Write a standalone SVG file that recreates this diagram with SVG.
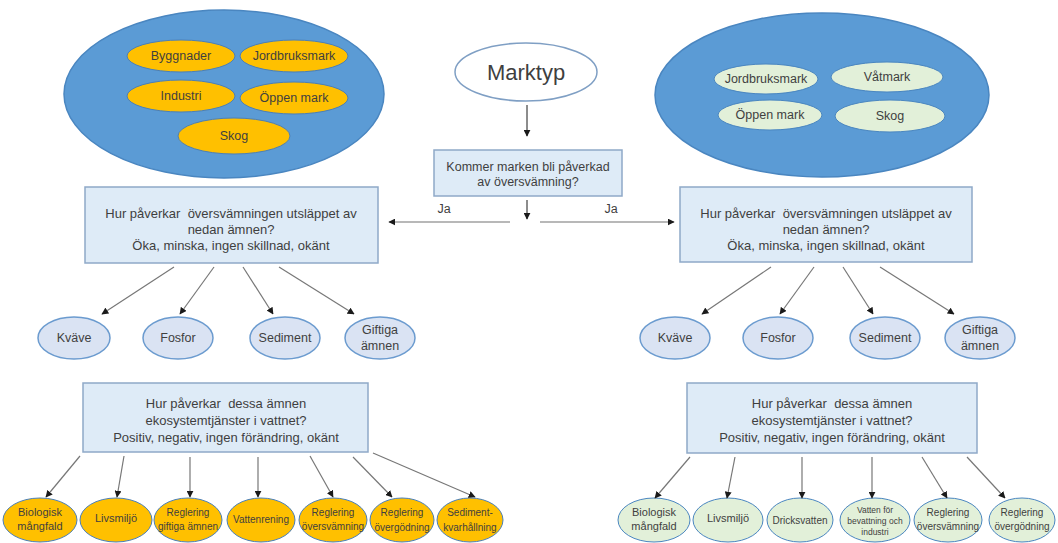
<svg xmlns="http://www.w3.org/2000/svg" width="1058" height="543" viewBox="0 0 1058 543">
<defs>
<marker id="ah" viewBox="0 0 10 10" refX="9" refY="5" markerWidth="7" markerHeight="7" markerUnits="userSpaceOnUse" orient="auto">
<path d="M0,0 L10,5 L0,10 z" fill="#1a1a1a"/>
</marker>
<style>
text{font-family:"Liberation Sans",Arial,sans-serif;fill:#3f3f3f;text-anchor:middle;white-space:pre}
.big{fill:#5b9bd5;stroke:#4a86c0;stroke-width:1.5}
.org{fill:#ffc000;stroke:#4a7fb8;stroke-width:1}
.grn{fill:#e2f0d9;stroke:#4a86c0;stroke-width:1}
.box{fill:#deebf7;stroke:#8fa9c8;stroke-width:1.5}
.sm{fill:#dae3f3;stroke:#6b9bcf;stroke-width:1.5}
.ln{stroke:#777;stroke-width:1.2;fill:none;marker-end:url(#ah)}
.lg{stroke:#a0a0a0;stroke-width:1.5;fill:none;marker-end:url(#ah)}
.t13{font-size:13px}
.t12{font-size:12.5px}
.t11{font-size:11px}
.t10{font-size:10px}
</style>
</defs>

<g id="left-landtypes">
<ellipse class="big" cx="224" cy="94" rx="160" ry="84"/>
<g id="l-byggnader"><ellipse class="org" cx="181" cy="56" rx="54" ry="16"/><text class="t12" x="181" y="60">Byggnader</text></g>
<g id="l-jordbruksmark"><ellipse class="org" cx="294" cy="56" rx="54" ry="16"/><text class="t12" x="294" y="60">Jordbruksmark</text></g>
<g id="l-industri"><ellipse class="org" cx="181" cy="96" rx="54" ry="16"/><text class="t12" x="181" y="100">Industri</text></g>
<g id="l-oppen"><ellipse class="org" cx="294" cy="98" rx="54" ry="16"/><text class="t12" x="294" y="102">Öppen mark</text></g>
<g id="l-skog"><ellipse class="org" cx="234" cy="136" rx="56" ry="18"/><text class="t12" x="234" y="140">Skog</text></g>
</g>

<g id="right-landtypes">
<ellipse class="big" cx="822" cy="95" rx="167" ry="82"/>
<g id="r-jordbruksmark"><ellipse class="grn" cx="766" cy="79" rx="52" ry="15"/><text class="t12" x="766" y="83">Jordbruksmark</text></g>
<g id="r-vatmark"><ellipse class="grn" cx="887" cy="77" rx="56" ry="15"/><text class="t12" x="887" y="81">Våtmark</text></g>
<g id="r-oppen"><ellipse class="grn" cx="770" cy="115" rx="52" ry="15"/><text class="t12" x="770" y="119">Öppen mark</text></g>
<g id="r-skog"><ellipse class="grn" cx="890" cy="116" rx="55" ry="16"/><text class="t12" x="890" y="120">Skog</text></g>
</g>

<g id="marktyp">
<ellipse cx="526" cy="72" rx="71" ry="29" fill="#fff" stroke="#7f9fc4" stroke-width="1.5"/>
<text x="526" y="80" style="font-size:22px">Marktyp</text>
</g>

<g id="kommer">
<rect class="box" x="434" y="150" width="188" height="46"/>
<text class="t12" x="528" y="171">Kommer marken bli påverkad</text>
<text class="t12" x="528" y="186">av översvämning?</text>
</g>

<g id="box-left">
<rect class="box" x="85" y="187" width="293" height="76"/>
<text class="t13" x="231" y="218">Hur påverkar  översvämningen utsläppet av</text>
<text class="t13" x="231" y="234">nedan ämnen?</text>
<text class="t13" x="231" y="250">Öka, minska, ingen skillnad, okänt</text>
</g>

<g id="box-right">
<rect class="box" x="680" y="187" width="292" height="75"/>
<text class="t13" x="826" y="218">Hur påverkar  översvämningen utsläppet av</text>
<text class="t13" x="826" y="234">nedan ämnen?</text>
<text class="t13" x="826" y="250">Öka, minska, ingen skillnad, okänt</text>
</g>

<g id="left-substances">
<g id="l-kvave"><ellipse class="sm" cx="74" cy="338" rx="36" ry="21"/><text class="t12" x="74" y="342">Kväve</text></g>
<g id="l-fosfor"><ellipse class="sm" cx="178" cy="338" rx="35" ry="21"/><text class="t12" x="178" y="342">Fosfor</text></g>
<g id="l-sediment"><ellipse class="sm" cx="285" cy="338" rx="35" ry="21"/><text class="t12" x="285" y="342">Sediment</text></g>
<g id="l-giftiga"><ellipse class="sm" cx="380" cy="338" rx="35" ry="21"/><text class="t12" x="380" y="334">Giftiga</text><text class="t12" x="380" y="350">ämnen</text></g>
</g>

<g id="right-substances">
<g id="r-kvave"><ellipse class="sm" cx="675" cy="338" rx="35" ry="21"/><text class="t12" x="675" y="342">Kväve</text></g>
<g id="r-fosfor"><ellipse class="sm" cx="778" cy="338" rx="35" ry="21"/><text class="t12" x="778" y="342">Fosfor</text></g>
<g id="r-sediment"><ellipse class="sm" cx="885" cy="338" rx="35" ry="21"/><text class="t12" x="885" y="342">Sediment</text></g>
<g id="r-giftiga"><ellipse class="sm" cx="980" cy="338" rx="35" ry="21"/><text class="t12" x="980" y="334">Giftiga</text><text class="t12" x="980" y="350">ämnen</text></g>
</g>

<g id="box2-left">
<rect class="box" x="83" y="383" width="285" height="69"/>
<text class="t13" x="226" y="408">Hur påverkar  dessa ämnen</text>
<text class="t13" x="226" y="425">ekosystemtjänster i vattnet?</text>
<text class="t13" x="226" y="442">Positiv, negativ, ingen förändring, okänt</text>
</g>

<g id="box2-right">
<rect class="box" x="687" y="383" width="290" height="70"/>
<text class="t13" x="832" y="408">Hur påverkar  dessa ämnen</text>
<text class="t13" x="832" y="425">ekosystemtjänster i vattnet?</text>
<text class="t13" x="832" y="442">Positiv, negativ, ingen förändring, okänt</text>
</g>

<g id="left-services">
<g id="ls-bio"><ellipse class="org" cx="40" cy="520" rx="37" ry="22"/><text class="t11" x="40" y="516">Biologisk</text><text class="t11" x="40" y="530">mångfald</text></g>
<g id="ls-livs"><ellipse class="org" cx="116" cy="520" rx="36" ry="22"/><text class="t11" x="116" y="522">Livsmiljö</text></g>
<g id="ls-gift"><ellipse class="org" cx="188" cy="520" rx="34" ry="22"/><text class="t10" x="188" y="516">Reglering</text><text class="t10" x="188" y="530">giftiga ämnen</text></g>
<g id="ls-vatten"><ellipse class="org" cx="261" cy="520" rx="34" ry="22"/><text class="t10" x="261" y="523">Vattenrening</text></g>
<g id="ls-oversv"><ellipse class="org" cx="333" cy="520" rx="34" ry="22"/><text class="t10" x="333" y="516">Reglering</text><text class="t10" x="333" y="530">översvämning</text></g>
<g id="ls-overg"><ellipse class="org" cx="402" cy="520" rx="32" ry="22"/><text class="t10" x="402" y="516">Reglering</text><text class="t10" x="402" y="531">övergödning</text></g>
<g id="ls-sed"><ellipse class="org" cx="470" cy="520" rx="33" ry="22"/><text class="t10" x="470" y="516">Sediment-</text><text class="t10" x="470" y="531">kvarhållning</text></g>
</g>

<g id="right-services">
<g id="rs-bio"><ellipse class="grn" cx="654" cy="520" rx="36" ry="22"/><text class="t11" x="654" y="516">Biologisk</text><text class="t11" x="654" y="530">mångfald</text></g>
<g id="rs-livs"><ellipse class="grn" cx="728" cy="520" rx="35" ry="22"/><text class="t11" x="728" y="522">Livsmiljö</text></g>
<g id="rs-dricks"><ellipse class="grn" cx="800" cy="520" rx="33" ry="22"/><text class="t10" x="800" y="524">Dricksvatten</text></g>
<g id="rs-bevattning"><ellipse class="grn" cx="875" cy="520" rx="35" ry="22"/><text x="875" y="513" style="font-size:8.5px">Vatten för</text><text x="875" y="524" style="font-size:8.5px">bevattning och</text><text x="875" y="535" style="font-size:8.5px">industri</text></g>
<g id="rs-oversv"><ellipse class="grn" cx="948" cy="520" rx="34" ry="22"/><text class="t10" x="948" y="516">Reglering</text><text class="t10" x="948" y="530">översvämning</text></g>
<g id="rs-overg"><ellipse class="grn" cx="1022" cy="520" rx="33" ry="22"/><text class="t10" x="1022" y="516">Reglering</text><text class="t10" x="1022" y="530">övergödning</text></g>
</g>

<g id="connectors">
<line x1="527" y1="105" x2="527" y2="136" stroke="#1a1a1a" stroke-width="1" marker-end="url(#ah)"/>
<line x1="527" y1="200" x2="527" y2="219" stroke="#1a1a1a" stroke-width="1" marker-end="url(#ah)"/>
<line class="lg" x1="510" y1="222" x2="389" y2="222"/>
<line class="lg" x1="540" y1="222" x2="674" y2="222"/>
<text class="t12" x="444" y="213">Ja</text>
<text class="t12" x="611" y="213">Ja</text>

<line class="ln" x1="174" y1="267" x2="102" y2="314"/>
<line class="ln" x1="214" y1="267" x2="180" y2="314"/>
<line class="ln" x1="243" y1="267" x2="273" y2="314"/>
<line class="ln" x1="279" y1="267" x2="354" y2="314"/>

<line class="ln" x1="771" y1="267" x2="702" y2="314"/>
<line class="ln" x1="814" y1="267" x2="780" y2="314"/>
<line class="ln" x1="843" y1="267" x2="873" y2="314"/>
<line class="ln" x1="880" y1="267" x2="954" y2="314"/>

<line class="ln" x1="80" y1="456" x2="46" y2="497"/>
<line class="ln" x1="124" y1="456" x2="117" y2="497"/>
<line class="ln" x1="190" y1="457" x2="190" y2="497"/>
<line class="ln" x1="258" y1="457" x2="258" y2="497"/>
<line class="ln" x1="310" y1="456" x2="333" y2="497"/>
<line class="ln" x1="353" y1="457" x2="392" y2="497"/>
<line class="ln" x1="373" y1="453" x2="475" y2="497"/>

<line class="ln" x1="690" y1="457" x2="655" y2="498"/>
<line class="ln" x1="735" y1="457" x2="727" y2="498"/>
<line class="ln" x1="802" y1="457" x2="802" y2="498"/>
<line class="ln" x1="872" y1="457" x2="872" y2="498"/>
<line class="ln" x1="922" y1="457" x2="947" y2="498"/>
<line class="ln" x1="967" y1="457" x2="1005" y2="498"/>
</g>
</svg>
